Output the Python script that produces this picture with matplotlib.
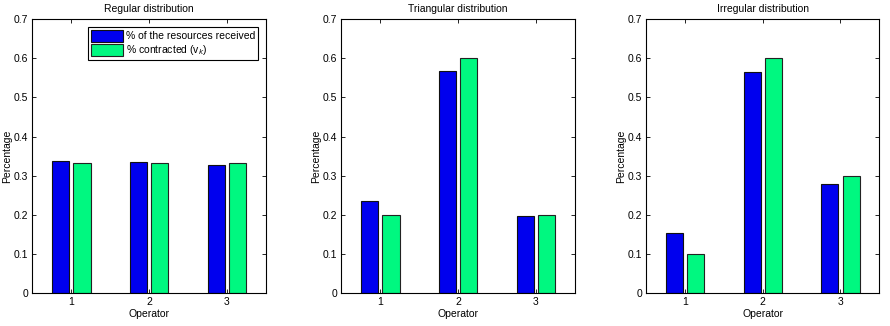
import matplotlib

matplotlib.use("Agg")
import matplotlib.pyplot as plt
import numpy as np

operators = [1, 2, 3]
titles = ["Regular distribution", "Triangular distribution", "Irregular distribution"]
received = [
    [0.337, 0.335, 0.328],
    [0.236, 0.568, 0.196],
    [0.154, 0.566, 0.280],
]
contracted = [
    [0.333, 0.333, 0.333],
    [0.2, 0.6, 0.2],
    [0.1, 0.6, 0.3],
]
labels = ["% of the resources received", "% contracted (v$_k$)"]

plt.rcParams["font.family"] = ["Liberation Sans", "DejaVu Sans"]
plt.rcParams["font.size"] = 7.5

fig = plt.figure(figsize=(8.9, 3.26), dpi=100)
lefts = [0.0365, 0.3837, 0.726]
x = np.array(operators)
w = 0.22
off = 0.137

for i, left in enumerate(lefts):
    ax = fig.add_axes([left, 0.101, 0.262, 0.840])
    b1 = ax.bar(x - off, received[i], w, color="#0000ee", edgecolor="#111111", linewidth=0.8)
    b2 = ax.bar(x + off, contracted[i], w, color="#00f880", edgecolor="#222222", linewidth=0.8)
    ax.set_xlim(0.5, 3.5)
    ax.set_ylim(0, 0.7)
    ax.set_xticks(operators)
    ax.set_yticks(np.arange(0, 0.71, 0.1))
    ax.set_yticklabels(["0"] + [f"{v:.1f}" for v in np.arange(0.1, 0.71, 0.1)])
    ax.tick_params(direction="in", top=True, right=True, length=3, width=0.6, pad=3)
    for s in ax.spines.values():
        s.set_linewidth(0.8)
    ax.set_title(titles[i], fontsize=7.5, pad=5)
    ax.set_xlabel("Operator", labelpad=1.5)
    ax.set_ylabel("Percentage", labelpad=1)
    if i == 0:
        leg = ax.legend([b1, b2], labels, loc="upper right", fancybox=False,
                        edgecolor="black", framealpha=1, borderaxespad=0.7,
                        handlelength=3.0, handleheight=1.4, handletextpad=0.3,
                        labelspacing=0.15, borderpad=0.3)
        leg.get_frame().set_linewidth(0.8)

fig.savefig("out.png", dpi=100)
